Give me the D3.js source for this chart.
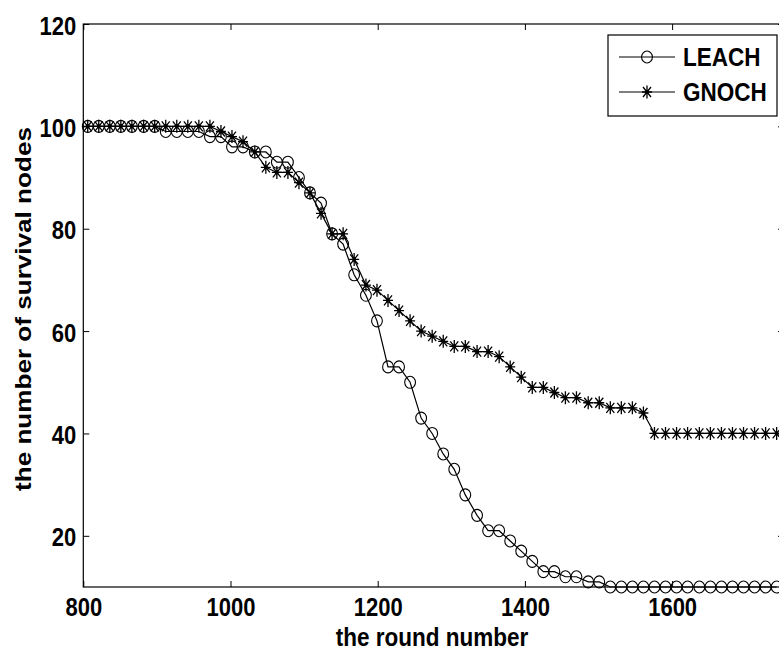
<!DOCTYPE html>
<html lang="en">
<head>
    <meta charset="UTF-8">
    <title>Survival nodes</title>
    <script src="https://d3js.org/d3.v7.min.js"></script>
    <style>
        body { margin: 0; background: #fff; }
        text { font-family: "Liberation Sans", Arial, sans-serif; font-weight: bold; fill: #000; }
    </style>
</head>
<body>
    <div id="chart"></div>
    <script>
        // Round numbers where the markers sit
        const rounds = [806, 821, 836, 851, 866, 882, 897, 912, 927, 942,
            957, 972, 987, 1002, 1017, 1033, 1048, 1063, 1078, 1093,
            1108, 1123, 1138, 1153, 1168, 1184, 1199, 1214, 1229, 1244,
            1259, 1274, 1289, 1304, 1319, 1335, 1350, 1365, 1380, 1395,
            1410, 1425, 1440, 1455, 1470, 1486, 1501, 1516, 1531, 1546,
            1561, 1576, 1591, 1606, 1621, 1637, 1652, 1667, 1682, 1697,
            1712, 1727, 1742];

        const leach = [100, 100, 100, 100, 100, 100, 100, 99, 99, 99,
            99, 98, 98, 96, 96, 95, 95, 93, 93, 90,
            87, 85, 79, 77, 71, 67, 62, 53, 53, 50,
            43, 40, 36, 33, 28, 24, 21, 21, 19, 17,
            15, 13, 13, 12, 12, 11, 11, 10, 10, 10,
            10, 10, 10, 10, 10, 10, 10, 10, 10, 10,
            10, 10, 10];

        const gnoch = [100, 100, 100, 100, 100, 100, 100, 100, 100, 100,
            100, 100, 99, 98, 97, 95, 92, 91, 91, 89,
            87, 83, 79, 79, 74, 69, 68, 66, 64, 62,
            60, 59, 58, 57, 57, 56, 56, 55, 53, 51,
            49, 49, 48, 47, 47, 46, 46, 45, 45, 45,
            44, 40, 40, 40, 40, 40, 40, 40, 40, 40,
            40, 40, 40];

        const xTicks = [800, 1000, 1200, 1400, 1600];
        const yTicks = [20, 40, 60, 80, 100, 120];
        const seriesNames = ["LEACH", "GNOCH"];

        const width = 779;
        const height = 652;
        const stretch = 1.16; // glyphs in the picture are a bit taller than wide

        const svg = d3.select("#chart")
            .append("svg")
            .attr("width", width)
            .attr("height", height);

        const x = d3.scaleLinear().domain([800, 1752]).range([83.3, 784]);
        const y = d3.scaleLinear().domain([10, 120]).range([587, 24]);

        const plotLeft = x.range()[0], plotRight = x.range()[1];
        const plotTop = y.range()[1], plotBottom = y.range()[0];

        // axes with inward ticks on all four sides
        const axB = svg.append("g")
            .attr("transform", `translate(0,${plotBottom})`)
            .call(d3.axisBottom(x).tickValues(xTicks).tickFormat(d3.format("d")).tickSize(-6).tickSizeOuter(0));
        const axT = svg.append("g")
            .attr("transform", `translate(0,${plotTop})`)
            .call(d3.axisTop(x).tickValues(xTicks).tickSize(-6).tickSizeOuter(0).tickFormat(""));
        const axL = svg.append("g")
            .attr("transform", `translate(${plotLeft},0)`)
            .call(d3.axisLeft(y).tickValues(yTicks).tickFormat(d3.format("d")).tickSize(-6).tickSizeOuter(0));
        const axR = svg.append("g")
            .attr("transform", `translate(${plotRight},0)`)
            .call(d3.axisRight(y).tickValues(yTicks).tickSize(-6).tickSizeOuter(0).tickFormat(""));

        [axB, axT, axL, axR].forEach(a => {
            a.select(".domain").remove();
            a.selectAll("line").attr("stroke", "#000").attr("stroke-width", 1);
        });

        axB.selectAll("text")
            .attr("y", 0).attr("dy", null)
            .attr("dominant-baseline", "central")
            .attr("transform", `translate(0,20) scale(1,${stretch})`)
            .style("font-size", "22px");

        axL.selectAll("text")
            .attr("x", 0).attr("dy", null)
            .attr("dominant-baseline", "central")
            .attr("transform", `translate(-7,1) scale(1,${stretch})`)
            .style("font-size", "22px");

        // frame
        svg.append("rect")
            .attr("x", plotLeft).attr("y", plotTop)
            .attr("width", plotRight - plotLeft).attr("height", plotBottom - plotTop)
            .attr("fill", "none").attr("stroke", "#000").attr("stroke-width", 1.2);

        // axis titles
        svg.append("text")
            .attr("text-anchor", "middle")
            .attr("dominant-baseline", "central")
            .attr("transform", `translate(432,637) scale(1,${stretch})`)
            .style("font-size", "22.5px")
            .text("the round number");

        svg.append("text")
            .attr("text-anchor", "middle")
            .attr("dominant-baseline", "central")
            .attr("transform", `translate(23,309) rotate(-90) scale(${stretch},1)`)
            .style("font-size", "22.5px")
            .text("the number of survival nodes");

        // markers
        const starPath = "M0,-6.5V6.5M-5,0H5M-4,-5L4,5M-4,5L4,-5";

        function drawCircle(sel) {
            sel.append("ellipse")
                .attr("rx", 5.4).attr("ry", 6)
                .attr("fill", "none").attr("stroke", "#000").attr("stroke-width", 1.1);
        }
        function drawStar(sel) {
            sel.append("path")
                .attr("d", starPath)
                .attr("fill", "none").attr("stroke", "#000").attr("stroke-width", 1.3);
            sel.append("circle").attr("r", 2).attr("fill", "#000");
        }

        const line = d3.line()
            .x((d, i) => x(rounds[i]))
            .y(d => y(d));

        const series = [
            { name: seriesNames[0], values: leach, marker: drawCircle },
            { name: seriesNames[1], values: gnoch, marker: drawStar }
        ];

        series.forEach(s => {
            svg.append("path")
                .datum(s.values)
                .attr("d", line)
                .attr("fill", "none")
                .attr("stroke", "#000")
                .attr("stroke-width", 1.2);

            svg.append("g")
                .selectAll("g")
                .data(s.values)
                .enter()
                .append("g")
                .attr("transform", (d, i) => `translate(${x(rounds[i])},${y(d)})`)
                .each(function () { s.marker(d3.select(this)); });
        });

        // legend
        const legend = svg.append("g");
        legend.append("rect")
            .attr("x", 608).attr("y", 35)
            .attr("width", 169).attr("height", 81)
            .attr("fill", "#fff").attr("stroke", "#000").attr("stroke-width", 1.2);

        series.forEach((s, i) => {
            const ly = 57 + i * 35;
            legend.append("line")
                .attr("x1", 619).attr("x2", 675)
                .attr("y1", ly).attr("y2", ly)
                .attr("stroke", "#000").attr("stroke-width", 1.1);
            const m = legend.append("g").attr("transform", `translate(647,${ly})`);
            s.marker(m);
            legend.append("text")
                .attr("dominant-baseline", "central")
                .attr("transform", `translate(683,${ly}) scale(1,${stretch})`)
                .style("font-size", "22.5px")
                .text(s.name);
        });
    </script>
</body>
</html>
